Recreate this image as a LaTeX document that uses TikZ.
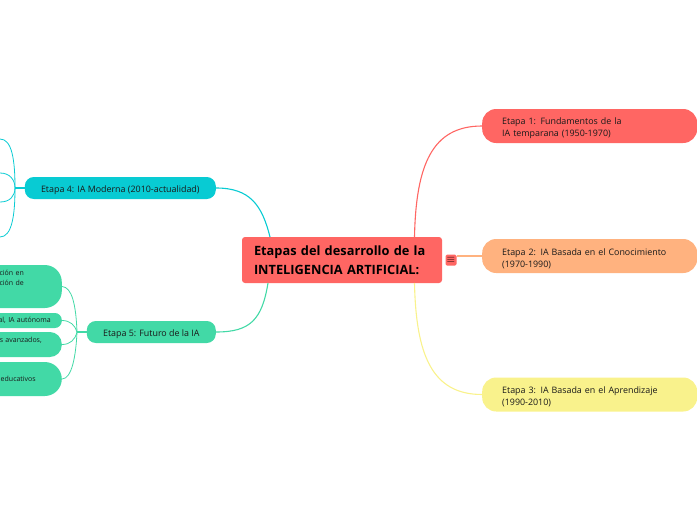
\documentclass[tikz,border=0pt]{standalone}
\usepackage{fontspec}
\setmainfont{Open Sans}
\usepackage{tikz}
\usetikzlibrary{positioning,calc}
\definecolor{rootred}{HTML}{FF6663}
\definecolor{stagepeach}{HTML}{FFB27F}
\definecolor{stageyellow}{HTML}{F9F28C}
\definecolor{stagecyan}{HTML}{08CBD3}
\definecolor{stagegreen}{HTML}{42D9A6}
\definecolor{inktext}{HTML}{1A1A1A}
\tikzset{
  rootbox/.style={fill=rootred,rounded corners=3pt,inner xsep=0pt,inner ysep=0pt,minimum width=200pt,minimum height=46pt,font=\fontsize{12.8}{18.5}\selectfont\bfseries,text=black,text width=200pt,align=left},
  rightstage/.style={fill=#1,rounded corners=14pt,anchor=west,inner xsep=20pt,inner ysep=0pt,text width=175pt,minimum height=34pt,align=left,font=\fontsize{8.9}{12}\selectfont,text=inktext,execute at begin node={\rule{0pt}{11.5pt}}},
  leftstage/.style={fill=#1,rounded corners=9pt,anchor=east,inner ysep=0pt,minimum height=22pt,font=\fontsize{8.9}{12}\selectfont,text=inktext,execute at begin node={\rule{0pt}{11.5pt}}},
  leafbox/.style={fill=stagegreen,rounded corners=#1,anchor=east,inner ysep=0pt,text width=90pt,align=right,font=\fontsize{7}{10}\selectfont,text=inktext},
  branch/.style={draw=#1,line width=1.1pt},
  twig/.style={draw=#1,line width=0.8pt}
}
\begin{document}
\begin{tikzpicture}[x=1pt,y=-1pt]
  \useasboundingbox (0,0) rectangle (697,520);
  \clip (0,0) rectangle (697,520);
  \node[rootbox] (root) at (342,260) {\hspace*{12pt}Etapas del desarrollo de la\\\hspace*{12pt}INTELIGENCIA ARTIFICIAL:};
  \node[fill=rootred,rounded corners=1.5pt,minimum size=11pt,inner sep=0pt,font=\fontsize{11}{11}\selectfont] (handle) at (451,260) {$\equiv$};
  \node[rightstage=rootred] (stageone) at (482,126) {Etapa 1: Fundamentos de la\\IA temparana (1950-1970)};
  \node[rightstage=stagepeach] (stagetwo) at (482,256) {Etapa 2: IA Basada en el Conocimiento\\(1970-1990)};
  \node[rightstage=stageyellow] (stagethree) at (482,394.5) {Etapa 3: IA Basada en el Aprendizaje\\(1990-2010)};
  \node[leftstage=stagecyan,minimum width=191pt] (stagefour) at (216,188) {Etapa 4: IA Moderna (2010-actualidad)};
  \node[leftstage=stagegreen,minimum width=129pt] (stagefive) at (216,332) {Etapa 5: Futuro de la IA};
  \node[leafbox=17pt,inner xsep=38pt,minimum height=43pt] (leafa) at (62,286.5) {ción en\hspace*{2pt}\\ción de\\\strut\\[-6pt]\strut};
  \node[leafbox=7pt,inner xsep=11pt,minimum height=15pt] (leafb) at (62,320.5) {al, IA autónoma};
  \node[leafbox=12pt,inner xsep=20pt,minimum height=25pt] (leafc) at (62,344.5) {s avanzados,\\[-3pt]\strut};
  \node[leafbox=17pt,inner xsep=26pt,minimum height=34pt] (leafd) at (62,379) {educativos};
  \coordinate (rootne) at (414.5,237);
  \coordinate (rootse) at (414.5,283);
  \coordinate (rootnw) at (270,237);
  \coordinate (rootsw) at (268,283);
  \coordinate (forkcyan) at (15,188);
  \coordinate (forkgreen) at (77,332);
  \coordinate (cyanup) at (0,139);
  \coordinate (cyanmidup) at (0,173);
  \coordinate (cyanmiddown) at (0,202);
  \coordinate (cyandown) at (0,237);
  \draw[branch=rootred] (rootne) .. controls (416,165) and (432,126) .. (stageone.west);
  \draw[branch=stagepeach] (handle.east |- stagetwo.west) -- (stagetwo.west);
  \draw[branch=stageyellow] (rootse) .. controls (416,355) and (432,394.5) .. (stagethree.west);
  \draw[branch=stagecyan] (stagefour.east) .. controls (250,188) and (262,205) .. (rootnw);
  \draw[branch=stagegreen] (stagefive.east) .. controls (250,332) and (262,320) .. (rootsw);
  \draw[branch=stagecyan] (stagefour.west) -- (forkcyan);
  \draw[branch=stagegreen] (stagefive.west) -- (forkgreen);
  \draw[twig=stagecyan] (forkcyan) .. controls (15,160) and (12,139) .. (cyanup);
  \draw[twig=stagecyan] (forkcyan) .. controls (15,180) and (10,173) .. (cyanmidup);
  \draw[twig=stagecyan] (forkcyan) .. controls (15,196) and (10,202) .. (cyanmiddown);
  \draw[twig=stagecyan] (forkcyan) .. controls (15,215) and (12,237) .. (cyandown);
  \draw[twig=stagegreen] (forkgreen) .. controls (76,305) and (72,287) .. (leafa.east);
  \draw[twig=stagegreen] (forkgreen) .. controls (75,325) and (70,320.5) .. (leafb.east);
  \draw[twig=stagegreen] (forkgreen) .. controls (75,340) and (70,344.5) .. (leafc.east);
  \draw[twig=stagegreen] (forkgreen) .. controls (76,355) and (72,379) .. (leafd.east);
\end{tikzpicture}
\end{document}
